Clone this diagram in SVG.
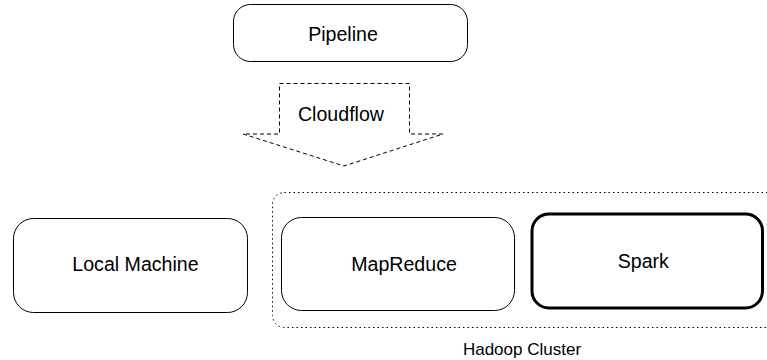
<svg xmlns="http://www.w3.org/2000/svg" width="767" height="360" viewBox="0 0 767 360">
<style>
.box{fill:#fff;stroke:#000;stroke-width:1}
.bold{fill:#fff;stroke:#000;stroke-width:3}
.lbl{font-family:"Liberation Sans",Arial,sans-serif;font-size:19.6px;fill:#000;text-anchor:middle}
.small{font-size:17px}
</style>
<rect width="767" height="360" fill="#fff"/>
<g id="hadoop-cluster">
<rect x="272.5" y="192.5" width="510" height="135" rx="12" fill="none" stroke="#000" stroke-width="1" stroke-dasharray="1.5 3"/>
<text class="lbl small" x="522" y="355">Hadoop Cluster</text>
</g>
<g id="pipeline">
<rect class="box" x="233.5" y="4.5" width="234" height="57" rx="17"/>
<text class="lbl" x="343" y="40.7">Pipeline</text>
</g>
<g id="connectors">
<g id="cloudflow">
<path d="M279.5 83.5 H409.5 V134 H443 L344 166 L243 134 H279.5 Z" fill="#fff" stroke="#000" stroke-width="1" stroke-dasharray="4 3"/>
<text class="lbl" x="341" y="120.7">Cloudflow</text>
</g>
</g>
<g id="local-machine">
<rect class="box" x="13.5" y="218.5" width="234" height="94" rx="20"/>
<text class="lbl" x="135.5" y="270.7">Local Machine</text>
</g>
<g id="mapreduce">
<rect class="box" x="281.5" y="217.5" width="233" height="93" rx="20"/>
<text class="lbl" x="404" y="270.7">MapReduce</text>
</g>
<g id="spark">
<rect class="bold" x="532" y="214" width="230.5" height="94" rx="17"/>
<text class="lbl" x="643.3" y="267.7">Spark</text>
</g>
</svg>
